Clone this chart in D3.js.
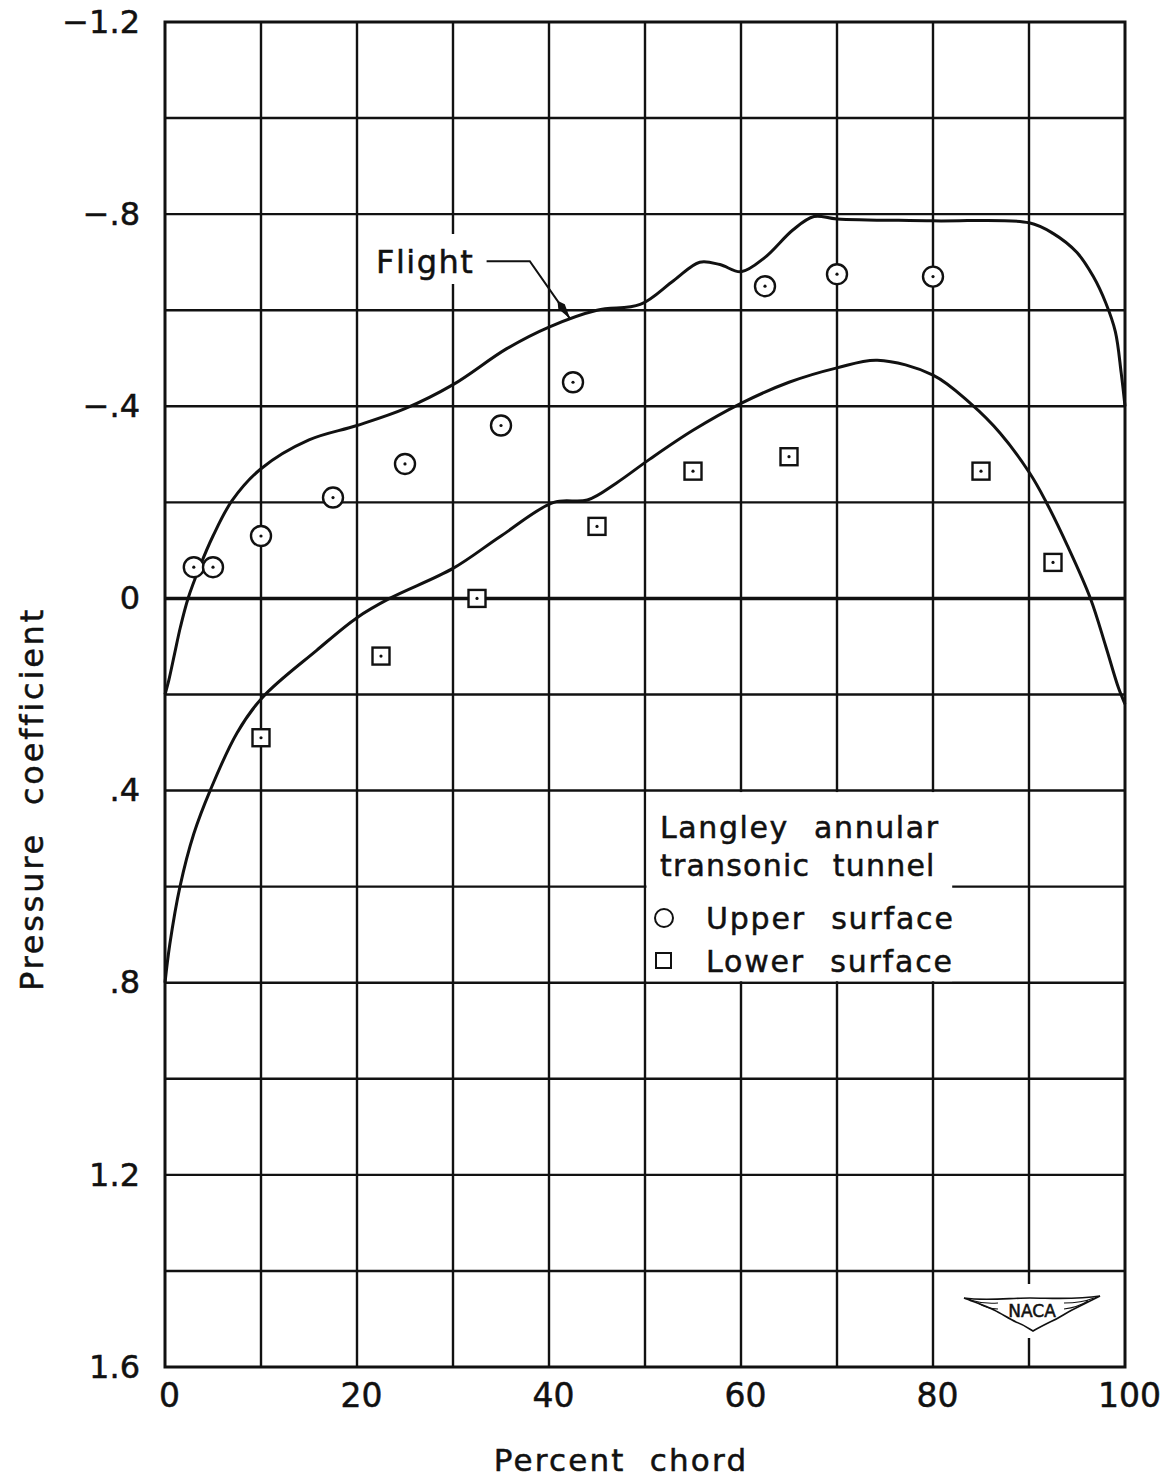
<!DOCTYPE html>
<html>
<head>
<meta charset="utf-8">
<script src="https://cdn.jsdelivr.net/npm/d3@7"></script>
<style>
  body { margin: 0; background: #fff; }
  text { font-family: "DejaVu Sans", sans-serif; fill: #111; stroke: #111; stroke-width: 0.5; }
</style>
</head>
<body>
<div id="chart"></div>
<script>
// tunnel data, upper surface (circles)
const upperX = [3, 5, 10, 17.5, 25, 35, 42.5, 62.5, 70, 80];
const upperCp = [-0.065, -0.065, -0.13, -0.21, -0.28, -0.36, -0.45, -0.65, -0.675, -0.67];

// tunnel data, lower surface (squares)
const lowerX = [10, 22.5, 32.5, 45, 55, 65, 85, 92.5];
const lowerCp = [0.29, 0.12, 0.0, -0.15, -0.265, -0.295, -0.265, -0.075];

// flight curves
const flightUpperX = [0, 0.4, 1, 1.6, 2.4, 3.6, 5, 7, 10, 15, 20, 25, 30, 35.6, 40, 45, 49.5, 53, 55.7, 57.8, 60, 62.5, 65.4, 67.6, 70, 80, 90, 92.5, 95, 96.7, 98, 99, 99.6, 100];
const flightUpperCp = [0.2, 0.17, 0.115, 0.06, 0.0, -0.065, -0.13, -0.204, -0.27, -0.33, -0.36, -0.395, -0.445, -0.52, -0.565, -0.6, -0.612, -0.662, -0.7, -0.695, -0.68, -0.71, -0.767, -0.795, -0.79, -0.786, -0.782, -0.76, -0.72, -0.67, -0.615, -0.555, -0.47, -0.4];

const flightLowerX = [0, 0.5, 1.56, 3, 4.7, 7.5, 10.2, 15.8, 20, 23.4, 30, 35, 40.5, 44, 47, 50.5, 55, 60, 65, 70, 74.2, 80, 83.9, 87, 90.1, 91.7, 94, 96.4, 98, 99.3, 100];
const flightLowerCp = [0.8, 0.72, 0.6, 0.49, 0.4, 0.28, 0.205, 0.108, 0.04, 0.0, -0.0625, -0.13, -0.2, -0.205, -0.24, -0.29, -0.35, -0.406, -0.45, -0.48, -0.496, -0.465, -0.406, -0.344, -0.26, -0.204, -0.11, 0.0, 0.1, 0.185, 0.22];

// ticks
const xTicks = [0, 20, 40, 60, 80, 100];
const xTickLabels = ["0", "20", "40", "60", "80", "100"];
const yTicks = [-1.2, -0.8, -0.4, 0, 0.4, 0.8, 1.2, 1.6];
const yTickLabels = ["\u22121.2", "\u2212.8", "\u2212.4", "0", ".4", ".8", "1.2", "1.6"];

const width = 1172, height = 1477;

const svg = d3.select("#chart")
    .append("svg")
    .attr("width", width)
    .attr("height", height);

const x = d3.scaleLinear().domain([0, 100]).range([165, 1125]);
const y = d3.scaleLinear().domain([-1.2, 1.6]).range([22, 1367]);

// grid
const grid = svg.append("g").attr("stroke", "#111").attr("fill", "none");
grid.selectAll("line.v")
    .data(d3.range(10, 100, 10))
    .join("line")
    .attr("x1", d => x(d)).attr("x2", d => x(d))
    .attr("y1", y(-1.2)).attr("y2", y(1.6))
    .attr("stroke-width", 2.4);
grid.selectAll("line.h")
    .data(d3.range(-1.0, 1.6, 0.2).map(d => +d.toFixed(1)))
    .join("line")
    .attr("x1", x(0)).attr("x2", x(100))
    .attr("y1", d => y(d)).attr("y2", d => y(d))
    .attr("stroke-width", d => d === 0 ? 3.4 : 2.4);

// legend box blanks the grid behind it
svg.append("rect")
    .attr("x", x(50) + 1.5).attr("y", y(0.4) + 1.5)
    .attr("width", x(82) - x(50) - 1.5).attr("height", y(0.8) - y(0.4) - 3)
    .attr("fill", "#fff");

// frame
svg.append("rect")
    .attr("x", x(0)).attr("y", y(-1.2))
    .attr("width", x(100) - x(0)).attr("height", y(1.6) - y(-1.2))
    .attr("fill", "none").attr("stroke", "#111").attr("stroke-width", 3);

// axes
const yAxis = g => g
    .attr("transform", `translate(${x(0) - 25},0)`)
    .call(d3.axisLeft(y).tickValues(yTicks).tickSize(0).tickPadding(0)
        .tickFormat((d, i) => yTickLabels[i]))
    .call(g => g.select(".domain").remove())
    .call(g => g.selectAll("text")
        .attr("font-size", 32)
        .attr("font-family", "DejaVu Sans")
        .attr("fill", "#111"));

const xAxis = g => g
    .attr("transform", `translate(4,${y(1.6) + 17})`)
    .call(d3.axisBottom(x).tickValues(xTicks).tickSize(0).tickPadding(0)
        .tickFormat((d, i) => xTickLabels[i]))
    .call(g => g.select(".domain").remove())
    .call(g => g.selectAll("text")
        .attr("font-size", 33)
        .attr("font-family", "DejaVu Sans")
        .attr("fill", "#111"));

svg.append("g").call(yAxis);
svg.append("g").call(xAxis);

svg.append("text")
    .attr("x", 621).attr("y", 1471)
    .attr("text-anchor", "middle")
    .attr("font-size", 31)
    .attr("letter-spacing", 2.2)
    .attr("word-spacing", 12)
    .text("Percent chord");

svg.append("text")
    .attr("transform", "translate(43,799) rotate(-90)")
    .attr("text-anchor", "middle")
    .attr("font-size", 32)
    .attr("letter-spacing", 2.8)
    .attr("word-spacing", 14)
    .text("Pressure coefficient");

// flight curves
const line = d3.line()
    .x(d => x(d[0]))
    .y(d => y(d[1]))
    .curve(d3.curveCatmullRom.alpha(0.5));

svg.append("path")
    .attr("d", line(d3.zip(flightUpperX, flightUpperCp)))
    .attr("fill", "none").attr("stroke", "#111").attr("stroke-width", 3);

svg.append("path")
    .attr("d", line(d3.zip(flightLowerX, flightLowerCp)))
    .attr("fill", "none").attr("stroke", "#111").attr("stroke-width", 3);

// upper surface circles
const circ = svg.append("g");
circ.selectAll("circle.u")
    .data(d3.zip(upperX, upperCp))
    .join("circle")
    .attr("cx", d => x(d[0])).attr("cy", d => y(d[1]))
    .attr("r", 10)
    .attr("fill", "#fff").attr("stroke", "#111").attr("stroke-width", 2.4);
circ.selectAll("circle.ud")
    .data(d3.zip(upperX, upperCp))
    .join("circle")
    .attr("cx", d => x(d[0])).attr("cy", d => y(d[1]))
    .attr("r", 1.6).attr("fill", "#111");

// lower surface squares
const sq = svg.append("g");
sq.selectAll("rect")
    .data(d3.zip(lowerX, lowerCp))
    .join("rect")
    .attr("x", d => x(d[0]) - 8.5).attr("y", d => y(d[1]) - 8.5)
    .attr("width", 17).attr("height", 17)
    .attr("fill", "#fff").attr("stroke", "#111").attr("stroke-width", 2.4);
sq.selectAll("circle")
    .data(d3.zip(lowerX, lowerCp))
    .join("circle")
    .attr("cx", d => x(d[0])).attr("cy", d => y(d[1]))
    .attr("r", 1.6).attr("fill", "#111");

// "Flight" label with leader and arrow
svg.append("defs").append("marker")
    .attr("id", "arrow")
    .attr("viewBox", "0 0 22 9")
    .attr("refX", 22).attr("refY", 4.5)
    .attr("markerWidth", 22).attr("markerHeight", 9)
    .attr("markerUnits", "userSpaceOnUse")
    .attr("orient", "auto")
    .append("path")
    .attr("d", "M0,4.5 L7,0.5 L22,4.5 L7,8.5 Z")
    .attr("fill", "#111");

svg.append("rect")
    .attr("x", 372).attr("y", 234).attr("width", 108).attr("height", 50)
    .attr("fill", "#fff");
svg.append("text")
    .attr("x", 376).attr("y", 273)
    .attr("font-size", 32)
    .attr("letter-spacing", 1.5)
    .attr("stroke-width", 0.9)
    .text("Flight");
svg.append("path")
    .attr("d", `M${x(33.5)},${y(-0.702)} L${x(38)},${y(-0.702)} L${x(42.2)},${y(-0.582)}`)
    .attr("fill", "none").attr("stroke", "#111").attr("stroke-width", 2)
    .attr("marker-end", "url(#arrow)");

// legend
const lg = svg.append("g").attr("font-size", 30);
lg.append("text").attr("x", 660).attr("y", 838)
    .attr("letter-spacing", 1.6).attr("word-spacing", 14)
    .text("Langley annular");
lg.append("text").attr("x", 660).attr("y", 876)
    .attr("letter-spacing", 1.2).attr("word-spacing", 12)
    .text("transonic tunnel");
lg.append("circle").attr("cx", 664).attr("cy", 918).attr("r", 9)
    .attr("fill", "none").attr("stroke", "#111").attr("stroke-width", 2);
lg.append("text").attr("x", 706).attr("y", 929)
    .attr("letter-spacing", 1.8).attr("word-spacing", 14)
    .text("Upper surface");
lg.append("rect").attr("x", 656).attr("y", 953).attr("width", 15).attr("height", 15)
    .attr("fill", "none").attr("stroke", "#111").attr("stroke-width", 2);
lg.append("text").attr("x", 706).attr("y", 972)
    .attr("letter-spacing", 1.8).attr("word-spacing", 14)
    .text("Lower surface");

// NACA wing emblem
const logo = svg.append("g").attr("transform", "translate(1030,1312)");
logo.append("rect").attr("x", -50).attr("y", -28).attr("width", 100).attr("height", 54).attr("fill", "#fff");
logo.append("path")
    .attr("d", "M-66,-14 C-45,-11 -20,-14 0,-14 C20,-14 45,-12 70,-16 C58,-10 50,-6 42,-2 C34,2 30,6 20,10 C12,14 8,16 3,19 C-2,16 -6,13 -14,10 C-22,6 -28,2 -36,-2 C-46,-7 -56,-10 -66,-14 Z")
    .attr("fill", "#fff").attr("stroke", "#111").attr("stroke-width", 1.6);
logo.append("path")
    .attr("d", "M-60,-12 C-50,-9 -42,-8 -32,-9 M-52,-9 C-46,-5 -40,-3 -32,-3 M64,-14 C54,-10 46,-9 34,-9 M58,-11 C50,-6 42,-4 34,-3")
    .attr("fill", "none").attr("stroke", "#111").attr("stroke-width", 1.1);
logo.append("text")
    .attr("x", 2).attr("y", 5)
    .attr("text-anchor", "middle")
    .attr("font-size", 17)
    .attr("stroke-width", 0.3)
    .text("NACA");
</script>
</body>
</html>
